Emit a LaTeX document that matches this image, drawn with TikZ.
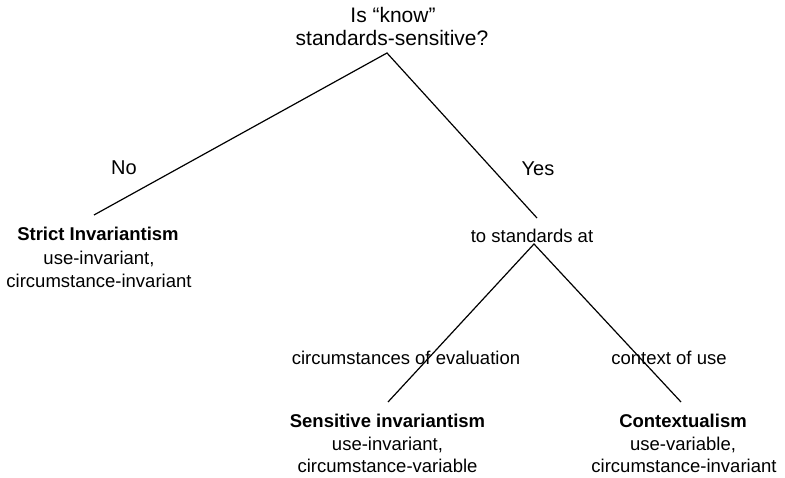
\documentclass[tikz,border=0pt]{standalone}
\usepackage{fontspec}
\setmainfont{Liberation Sans}
\begin{document}
\begin{tikzpicture}[x=1pt,y=-1pt,
  txt/.style={anchor=base,inner sep=0pt,font=\fontsize{18.5}{22}\selectfont},
  big/.style={txt,font=\fontsize{21}{25}\selectfont},
  mid/.style={txt,font=\fontsize{20}{24}\selectfont},
  ttl/.style={txt,font=\fontsize{18.5}{22}\selectfont\bfseries},
  branch/.style={line width=1.2pt,black}]
\useasboundingbox (0,0) rectangle (785,478);
% question
\node[big] (q1) at (393,23) {Is “know”};
\node[big] (q2) at (392,46) {standards-sensitive?};
\node[mid] (no) at (124,175) {No};
\node[mid] (yes) at (538,176) {Yes};
% strict invariantism
\node[ttl] (si1) at (98,241) {Strict Invariantism};
\node[txt] (si2) at (99,265) {use-invariant,};
\node[txt] (si3) at (99,288) {circumstance-invariant};
% to standards at
\node[txt] (ts) at (532,243) {to standards at};
\node[txt] (ce) at (406,365) {circumstances of evaluation};
\node[txt] (cu) at (669,365) {context of use};
% sensitive invariantism
\node[ttl] (sv1) at (387.5,428) {Sensitive invariantism};
\node[txt] (sv2) at (387.5,450) {use-invariant,};
\node[txt] (sv3) at (387.5,472) {circumstance-variable};
% contextualism
\node[ttl] (cx1) at (683,428) {Contextualism};
\node[txt] (cx2) at (683,450) {use-variable,};
\node[txt] (cx3) at (684,472) {circumstance-invariant};
% connector ends
\coordinate (top) at (387,53);
\coordinate (leftend) at (94,215);
\coordinate (rightend) at (537,218);
\coordinate (midpt) at (534,244);
\coordinate (lowleft) at (388,402);
\coordinate (lowright) at (681,402);
\draw[branch] (leftend) -- (top) -- (rightend);
\draw[branch] (lowleft) -- (midpt) -- (lowright);
\end{tikzpicture}
\end{document}
